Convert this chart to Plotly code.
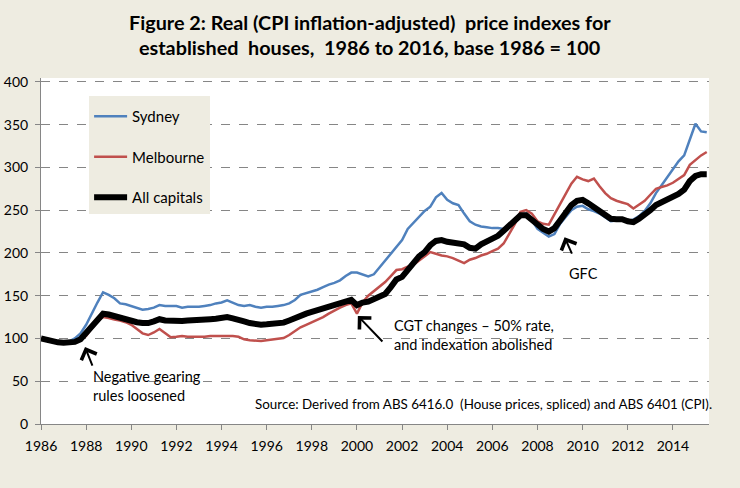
import plotly.graph_objects as go

# Quarterly time points, 1986 Q1 .. 2015 Q3
quarters = [1986 + 0.25 * i for i in range(119)]

sydney = [
    100, 98, 97, 96, 96, 96.5, 100, 106,            # 1986-1987
    116, 130, 142, 154, 151, 147, 141, 140,         # 1988-1989
    138, 136, 133.5, 134.5, 136, 139, 138, 138,     # 1990-1991
    138, 136, 137, 137, 137, 138, 139, 141,         # 1992-1993
    142, 144.5, 141.5, 139, 138, 139, 137, 136,     # 1994-1995
    137, 137, 138, 139, 141, 145, 151, 153,         # 1996-1997
    155, 157, 160, 163, 165, 168, 173, 177,         # 1998-1999
    177, 175, 172.5, 175, 183, 192, 200, 207,       # 2000-2001
    215, 228, 235, 242, 249, 254, 265, 270,         # 2002-2003
    262, 258, 256, 246, 237, 233, 231, 230,         # 2004-2005
    229, 229, 228, 232, 238, 245, 246, 238,         # 2006-2007
    228, 224, 219, 222, 234, 242, 250, 254,         # 2008-2009
    255, 251, 249, 246, 241, 237, 238, 238,         # 2010-2011
    237, 239, 243, 249, 258, 270, 279, 288,         # 2012-2013
    298, 307, 314, 332, 351, 342, 341,              # 2014-2015
]

melbourne = [
    100, 98, 97, 96, 95, 95, 96, 98,
    103, 112, 120, 125, 124, 122, 121, 119,
    116, 111, 106, 104, 107, 111, 106, 101.5,
    102, 103, 102, 102, 101.5, 102, 103, 103,
    103, 103.5, 103, 102, 99, 98, 97.5, 97,
    98, 99, 99.5, 100.5, 104, 109, 113, 116,
    119, 122, 125, 129, 133, 136, 139, 141,
    129, 142, 150, 155, 160, 166, 173, 180,
    181, 184, 186, 191, 195, 201, 199, 197,
    196, 194, 191, 188, 192, 194, 197, 199,
    202, 205, 211, 222, 234, 248, 250, 246,
    237, 234, 233, 245, 257, 270, 281, 289,
    286, 284, 287, 278, 270, 264, 261, 259,
    257, 252, 257, 261, 268, 275, 277, 279,
    282, 287, 291, 303, 309, 314, 318,
]

all_capitals = [
    100, 98, 96.5, 95.5, 95, 95, 96, 99,
    106, 115, 122, 129, 128, 126, 125, 123,
    121.5, 119, 118, 118, 120, 122.5, 121, 120.5,
    120.5, 120.5, 121, 121, 121.5, 121.5, 122.5, 123,
    124, 125, 123.5, 122.5, 120, 118, 116.5, 116,
    116.5, 117, 118, 118.5, 121, 124, 127, 129,
    131, 133, 135, 137, 139, 141, 143, 145,
    139, 142, 143, 146, 148, 152, 160, 169,
    172, 180, 188, 196, 201, 209, 214, 215,
    213, 212.5, 211, 210, 206, 205, 210, 213,
    216, 220, 226, 232, 238, 244, 244, 238,
    232, 228, 225, 229, 238, 248, 256, 261,
    262, 258, 254, 249, 244, 240, 239.5, 239.5,
    237, 236, 240, 244, 250, 256, 259, 262,
    265, 269, 274, 284, 290, 292, 292,
]

year_ticks = list(range(1986, 2016, 2))
y_ticks = [0, 50, 100, 150, 200, 250, 300, 350, 400]

title_lines = [
    "Figure 2: Real (CPI inflation-adjusted)  price indexes for",
    "established  houses,  1986 to 2016, base 1986 = 100",
]

BG = "#EEECE1"
FONT = "Lato"

fig = go.Figure()
fig.add_trace(go.Scatter(x=quarters, y=sydney, name="Sydney", mode="lines",
                         line=dict(color="#4F81BD", width=2.5),
                         legendgroup="s"))
fig.add_trace(go.Scatter(x=quarters, y=melbourne, name="Melbourne", mode="lines",
                         line=dict(color="#C0504D", width=2.5),
                         legendgroup="m"))
fig.add_trace(go.Scatter(x=quarters, y=all_capitals, name="All capitals", mode="lines",
                         line=dict(color="#000000", width=6),
                         legendgroup="a"))

ann = []
# title lines
title_font = dict(size=19.8, family=FONT, color="#000")
ann.append(dict(text="<b>%s</b>" % title_lines[0], xref="paper", yref="paper",
                x=0.4925, y=1.162, xanchor="center", yanchor="middle",
                showarrow=False, font=title_font))
ann.append(dict(text="<b>%s</b>" % title_lines[1], xref="paper", yref="paper",
                x=0.4925, y=1.0896, xanchor="center", yanchor="middle",
                showarrow=False, font=title_font))
# text notes
note_font = dict(size=14.5, family=FONT, color="#000")
ann.append(dict(text="Negative gearing<br>rules loosened", x=1988.2, y=45,
                xanchor="left", yanchor="middle", align="left",
                showarrow=False, font=note_font))
ann.append(dict(text="CGT changes \u2013 50% rate,<br>and indexation abolished",
                x=2001.55, y=103.5, xanchor="left", yanchor="middle", align="left",
                showarrow=False, font=note_font))
ann.append(dict(text="GFC", x=2010.05, y=175.4, xanchor="center", yanchor="middle",
                showarrow=False, font=note_font))
ann.append(dict(text="Source: Derived from ABS 6416.0  (House prices, spliced) and ABS 6401 (CPI).",
                x=1995.4, y=23.4, xanchor="left", yanchor="middle",
                showarrow=False, font=dict(size=13.4, family=FONT, color="#000")))
# arrows
for hx, hy, ax, ay in [(1987.95, 90, 8, 20), (2000.04, 126.3, 26, 27), (2009.2, 218.4, 8, 18)]:
    ann.append(dict(text="", x=hx, y=hy, ax=ax, ay=ay, showarrow=True,
                    arrowhead=4, arrowsize=1.6, arrowwidth=2, arrowcolor="#000",
                    standoff=0, startstandoff=0))

fig.update_layout(
    width=740, height=488,
    paper_bgcolor=BG, plot_bgcolor="#FFFFFF",
    margin=dict(l=41, r=31, t=78, b=64, autoexpand=False),
    font=dict(family=FONT, size=14, color="#000"),
    showlegend=True,
    legend=dict(x=0.072, y=0.948, xanchor="left", yanchor="top",
                bgcolor=BG, borderwidth=0, tracegroupgap=18, itemwidth=33,
                title=dict(text=" ", font=dict(size=3)),
                traceorder="grouped", font=dict(size=15, family=FONT, color="#000")),
    annotations=ann,
)
fig.update_xaxes(range=[1986, 2015.6], tickvals=year_ticks,
                 ticktext=[str(y) for y in year_ticks],
                 showgrid=False, zeroline=False, automargin=False,
                 showline=True, linecolor="#868686", linewidth=1,
                 ticks="outside", ticklen=5, tickcolor="#868686",
                 ticklabelstandoff=4,
                 tickfont=dict(size=14, family=FONT, color="#000"))
fig.update_yaxes(range=[0, 404.5], tickvals=y_ticks,
                 showgrid=True, gridcolor="#868686", griddash="dash", gridwidth=1,
                 zeroline=False, automargin=False,
                 showline=True, linecolor="#868686", linewidth=1,
                 ticks="outside", ticklen=5, tickcolor="#868686",
                 ticklabelstandoff=4,
                 tickfont=dict(size=14, family=FONT, color="#000"))

fig.write_html("out.html")
